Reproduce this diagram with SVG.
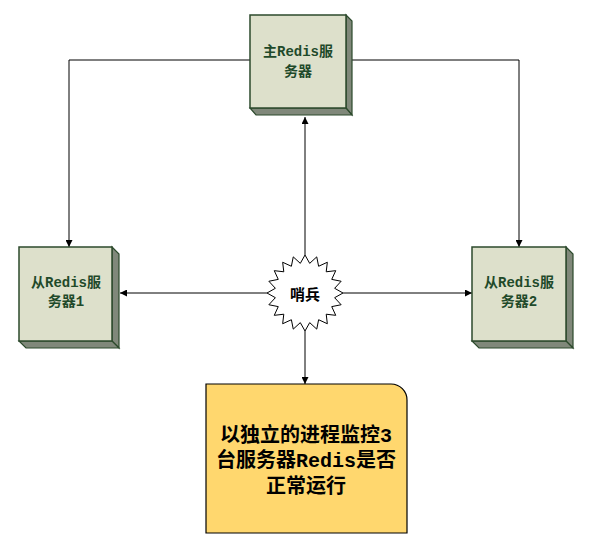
<svg xmlns="http://www.w3.org/2000/svg" width="603" height="541" viewBox="0 0 603 541">
<style>
.face{fill:#dde0cb;stroke:#2c4a2c;stroke-width:1.5}
.side{fill:#80887a;stroke:#2c4a2c;stroke-width:1.2}
.ntxt{font-family:"Liberation Mono","Noto Sans CJK SC",monospace;font-size:14px;font-weight:bold;fill:#1f4a2a;text-anchor:middle;dominant-baseline:central}
.btxt{font-family:"Liberation Mono","Noto Sans CJK SC",monospace;font-size:20px;font-weight:bold;fill:#000;text-anchor:middle;dominant-baseline:central}
.conn{fill:none;stroke:#000;stroke-width:1}
</style>
<defs>
<marker id="arr" viewBox="0 0 10 10" refX="10" refY="5" markerWidth="7" markerHeight="7" markerUnits="userSpaceOnUse" orient="auto">
<path d="M0,0 L10,5 L0,10 z" fill="#000"/>
</marker>
</defs>
<rect width="603" height="541" fill="#fff"/>
<g id="connectors">
<polyline class="conn" points="250,60 69,60 69,247" marker-end="url(#arr)"/>
<polyline class="conn" points="346,60 519,60 519,247" marker-end="url(#arr)"/>
<line class="conn" x1="305" y1="255" x2="305" y2="117" marker-end="url(#arr)"/>
<line class="conn" x1="305" y1="331" x2="305" y2="384" marker-end="url(#arr)"/>
<line class="conn" x1="267" y1="293" x2="120" y2="293" marker-end="url(#arr)"/>
<line class="conn" x1="343" y1="293" x2="472" y2="293" marker-end="url(#arr)"/>
</g>
<g id="master">
<polygon class="side" points="346,15 352,21 352,115 346,108"/>
<polygon class="side" points="250,108 346,108 352,115 256,115"/>
<rect class="face" x="250" y="15" width="96" height="93"/>
<text class="ntxt" x="298" y="52">主Redis服</text>
<text class="ntxt" x="298" y="72">务器</text>
</g>
<g id="slave1">
<polygon class="side" points="112,247 119,254 119,348 112,341"/>
<polygon class="side" points="19,341 112,341 119,348 26,348"/>
<rect class="face" x="19" y="247" width="93" height="94"/>
<text class="ntxt" x="66" y="283">从Redis服</text>
<text class="ntxt" x="66" y="302">务器1</text>
</g>
<g id="slave2">
<polygon class="side" points="566,247 573,254 573,348 566,341"/>
<polygon class="side" points="472,341 566,341 573,348 479,348"/>
<rect class="face" x="472" y="247" width="94" height="94"/>
<text class="ntxt" x="519" y="283">从Redis服</text>
<text class="ntxt" x="519" y="302">务器2</text>
</g>
<g id="sentinel">
<polygon fill="#fff" stroke="#000" stroke-width="1" points="305,255 309.69,263.37 316.74,256.86 318.62,266.27 327.34,262.26 326.21,271.79 335.74,270.66 331.73,279.38 341.14,281.26 334.63,288.31 343,293 334.63,297.69 341.14,304.74 331.73,306.62 335.74,315.34 326.21,314.21 327.34,323.74 318.62,319.73 316.74,329.14 309.69,322.63 305,331 300.31,322.63 293.26,329.14 291.38,319.73 282.66,323.74 283.79,314.21 274.26,315.34 278.27,306.62 268.86,304.74 275.37,297.69 267,293 275.37,288.31 268.86,281.26 278.27,279.38 274.26,270.66 283.79,271.79 282.66,262.26 291.38,266.27 293.26,256.86 300.31,263.37"/>
<text x="305" y="293" font-family="'Noto Sans CJK SC',sans-serif" font-size="15" font-weight="bold" text-anchor="middle" dominant-baseline="central" fill="#000">哨兵</text>
</g>
<g id="note">
<path d="M206,384 H391 A16,16 0 0 1 407,400 V533 H206 Z" fill="#ffd76e" stroke="#000" stroke-width="1.2"/>
<text class="btxt" x="306" y="436">以独立的进程监控3</text>
<text class="btxt" x="306" y="461">台服务器Redis是否</text>
<text class="btxt" x="306" y="487">正常运行</text>
</g>
</svg>
